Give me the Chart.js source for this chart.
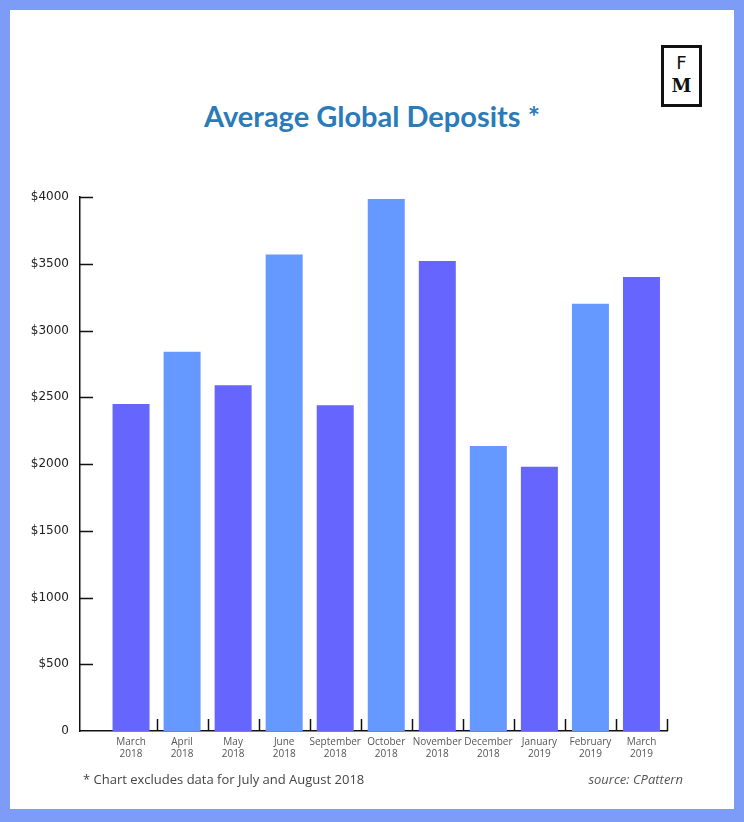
<!DOCTYPE html>
<html>
<head>
<meta charset="utf-8">
<script src="https://cdn.jsdelivr.net/npm/chart.js@4.4.1/dist/chart.umd.min.js"></script>
<style>
  html, body { margin: 0; padding: 0; }
  body { width: 744px; height: 822px; background: #7c9cf7; position: relative; overflow: hidden; }
  #panel { position: absolute; left: 10px; top: 10px; width: 724px; height: 799px; background: #ffffff; }
  #wrap { position: absolute; left: 0; top: 0; width: 744px; height: 822px; }
  #title { position: absolute; left: 0; width: 744px; top: 98px; text-align: center;
           font-family: Lato, sans-serif; font-weight: 700; font-size: 29px; color: #2b7bb8; letter-spacing: 0px; }
  #logo { position: absolute; left: 661px; top: 45px; width: 35px; height: 56px; border: 3px solid #111; }
  #logo .f { position: absolute; left: 0; width: 35px; top: 4px; text-align: center; font-family: "DejaVu Sans", sans-serif; font-size: 18px; color: #111; }
  #logo .m { position: absolute; left: 0; width: 35px; top: 27px; text-align: center; font-family: "DejaVu Serif", serif; font-weight: 700; font-size: 18px; color: #111; }
  #note { position: absolute; left: 83px; top: 770px; font-family: "Open Sans", sans-serif; font-size: 13px; color: #444; }
  #source { position: absolute; right: 61px; top: 770px; font-family: "Open Sans", sans-serif; font-style: italic; font-size: 13px; color: #555; }
</style>
</head>
<body>
<div id="panel"></div>
<div id="title">Average Global Deposits *</div>
<div id="logo"><div class="f">F</div><div class="m">M</div></div>
<div id="wrap"><canvas id="c" width="744" height="822"></canvas></div>
<div id="note">* Chart excludes data for July and August 2018</div>
<div id="source">source: CPattern</div>
<script>
const months = ["March", "April", "May", "June", "September", "October", "November", "December", "January", "February", "March"];
const years = ["2018", "2018", "2018", "2018", "2018", "2018", "2018", "2018", "2019", "2019", "2019"];
const deposits = [2450, 2840, 2590, 3570, 2440, 3985, 3520, 2135, 1980, 3200, 3400];
const barColors = ["#6666ff", "#6699ff", "#6666ff", "#6699ff", "#6666ff", "#6699ff", "#6666ff", "#6699ff", "#6666ff", "#6699ff", "#6666ff"];
const yTicks = [0, 500, 1000, 1500, 2000, 2500, 3000, 3500, 4000];

const points = deposits.map((v, i) => ({ x: i, y: v }));

const tickMarks = {
  id: 'tickMarks',
  afterDraw(chart) {
    const ctx = chart.ctx;
    const xs = chart.scales.x, ys = chart.scales.y;
    const area = chart.chartArea;
    ctx.save();
    ctx.strokeStyle = '#111';
    ctx.lineWidth = 1.5;
    ctx.beginPath();
    yTicks.forEach(v => {
      if (v === 0) return;
      const py = Math.round(ys.getPixelForValue(v)) + 0.5;
      ctx.moveTo(area.left, py);
      ctx.lineTo(area.left + 13, py);
    });
    for (let i = 0; i < months.length; i++) {
      const px = Math.round(xs.getPixelForValue(i + 0.5)) + 0.5;
      ctx.moveTo(px, area.bottom);
      ctx.lineTo(px, area.bottom - 12);
    }
    ctx.stroke();
    ctx.restore();
  }
};

new Chart(document.getElementById('c'), {
  type: 'bar',
  data: {
    datasets: [{
      data: points,
      backgroundColor: barColors,
      borderWidth: 0,
      barPercentage: 0.725,
      categoryPercentage: 1.0
    }]
  },
  options: {
    responsive: false,
    animation: false,
    events: [],
    layout: { padding: { top: 197, right: 77, bottom: 0, left: 0 } },
    plugins: { legend: { display: false }, tooltip: { enabled: false }, title: { display: false } },
    scales: {
      x: {
        type: 'linear',
        offset: false,
        min: -1,
        max: 10.5,
        afterFit(s) { s.height = 91; },
        grid: { display: false, drawTicks: false, offset: false },
        border: { display: true, color: '#111', width: 1.5 },
        afterBuildTicks(s) { s.ticks = months.map((m, i) => ({ value: i })); },
        ticks: {
          autoSkip: false,
          maxRotation: 0,
          padding: 5,
          color: '#555',
          font: { family: 'Open Sans', size: 10 },
          callback: (v) => [months[v], years[v]]
        }
      },
      y: {
        min: 0,
        max: 4000,
        afterFit(s) { s.width = 80; },
        afterBuildTicks(s) { s.ticks = yTicks.map(v => ({ value: v })); },
        grid: { display: false, drawTicks: false },
        border: { display: true, color: '#111', width: 1.5 },
        ticks: {
          padding: 11,
          color: '#222',
          font: { family: 'DejaVu Sans', size: 12 },
          callback: (v) => v === 0 ? '0' : '$' + v
        }
      }
    }
  },
  plugins: [tickMarks]
});
</script>
</body>
</html>
